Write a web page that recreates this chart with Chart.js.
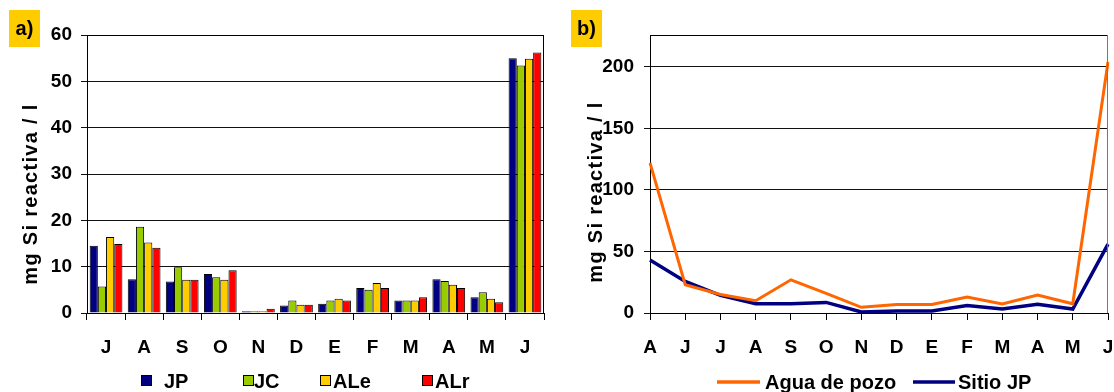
<!DOCTYPE html>
<html>
<head>
<meta charset="utf-8">
<script src="https://cdn.jsdelivr.net/npm/chart.js@4.4.1/dist/chart.umd.min.js"></script>
<style>
  html, body { margin: 0; padding: 0; background: #fff; }
  #wrap { position: relative; width: 1114px; height: 392px; overflow: hidden; }
  canvas { position: absolute; top: 0; }
  #left { left: 0; }
  #right { left: 556px; }
</style>
</head>
<body>
<div id="wrap">
  <canvas id="left" width="556" height="392"></canvas>
  <canvas id="right" width="558" height="392"></canvas>
</div>
<script>
// a) bars per month
const monthsA = ['J', 'A', 'S', 'O', 'N', 'D', 'E', 'F', 'M', 'A', 'M', 'J'];
const seriesA = ['JP', 'JC', 'ALe', 'ALr'];
const jp  = [14.5, 7.3, 6.8, 8.4, 0.4, 1.6, 2.0, 5.4, 2.7, 7.3, 3.4, 55.0];
const jc  = [5.7, 18.6, 9.9, 7.7, 0.4, 2.7, 2.7, 5.0, 2.7, 6.9, 4.5, 53.4];
const ale = [16.4, 15.2, 7.2, 7.2, 0.4, 1.8, 3.1, 6.5, 2.7, 6.1, 3.1, 54.9];
const alr = [14.9, 14.1, 7.2, 9.2, 0.9, 1.8, 2.7, 5.4, 3.4, 5.4, 2.3, 56.2];
const ticksA = [0, 10, 20, 30, 40, 50, 60];

// b) lines per month
const monthsB = ['A', 'J', 'J', 'A', 'S', 'O', 'N', 'D', 'E', 'F', 'M', 'A', 'M', 'J'];
const seriesB = ['Agua de pozo', 'Sitio JP'];
const pozo  = [122, 23, 15, 10, 27, 16, 4.6, 7, 7, 13, 7.3, 14.6, 7.5, 204];
const sitio = [43, 25.7, 14.3, 7.6, 7.6, 8.6, 0.8, 1.6, 1.6, 6, 3.2, 7, 3.2, 56];
const ticksB = [0, 50, 100, 150, 200];

const yTitle = 'mg Si reactiva / l';
const FONT = "'Liberation Sans', Arial, sans-serif";

// frame, tag box, rotated title and legend drawn on top of the chart
const framePlugin = {
  id: 'frame',
  afterDraw(chart, args, o) {
    const ctx = chart.ctx, a = chart.chartArea;
    ctx.save();
    ctx.lineWidth = 1;
    ctx.strokeStyle = '#000';
    ctx.beginPath();
    ctx.moveTo(a.left, Math.round(a.top) + 0.5);
    ctx.lineTo(Math.round(a.right) - 0.5, Math.round(a.top) + 0.5);
    ctx.stroke();
    ctx.strokeStyle = o.rightColor;
    ctx.beginPath();
    ctx.moveTo(Math.round(a.right) - 0.5, a.top);
    ctx.lineTo(Math.round(a.right) - 0.5, a.bottom);
    ctx.stroke();

    // tag
    ctx.fillStyle = '#ffcc00';
    ctx.fillRect(o.tag.x, o.tag.y, o.tag.w, o.tag.h);
    ctx.fillStyle = '#000';
    ctx.font = 'bold 20px ' + FONT;
    ctx.textAlign = 'center';
    ctx.textBaseline = 'middle';
    ctx.fillText(o.tag.text, o.tag.x + o.tag.w / 2, o.tag.y + o.tag.h / 2 + 1);

    // legend
    ctx.textAlign = 'left';
    chart.data.datasets.forEach((ds, i) => {
      const it = o.legend.items[i];
      if (o.legend.kind === 'box') {
        ctx.fillStyle = ds.backgroundColor;
        ctx.fillRect(it.box, o.legend.y - 6, 11, 11);
        ctx.strokeStyle = '#000';
        ctx.strokeRect(it.box + 0.5, o.legend.y - 5.5, 10, 10);
      } else {
        ctx.strokeStyle = ds.borderColor;
        ctx.lineWidth = 3.5;
        ctx.beginPath();
        ctx.moveTo(it.box, o.legend.y);
        ctx.lineTo(it.box + it.len, o.legend.y);
        ctx.stroke();
      }
      ctx.fillStyle = '#000';
      ctx.font = 'bold 20px ' + FONT;
      ctx.fillText(ds.label, it.text, o.legend.y + 1);
    });

    // rotated y title
    ctx.translate(o.title.x, o.title.y);
    ctx.rotate(-Math.PI / 2);
    ctx.letterSpacing = o.title.spacing;
    ctx.textAlign = 'center';
    ctx.fillStyle = '#000';
    ctx.font = 'bold 20px ' + FONT;
    ctx.fillText(yTitle, 0, 0);
    ctx.restore();
  }
};

const tickFont = { family: FONT, size: 19, weight: 'bold' };

new Chart(document.getElementById('left'), {
  type: 'bar',
  data: {
    labels: monthsA,
    datasets: [
      { label: seriesA[0], data: jp,  backgroundColor: '#000080' },
      { label: seriesA[1], data: jc,  backgroundColor: '#99cc00' },
      { label: seriesA[2], data: ale, backgroundColor: '#ffcc00' },
      { label: seriesA[3], data: alr, backgroundColor: '#ff0000' }
    ].map(d => Object.assign(d, {
      borderColor: '#000', borderWidth: 1,
      categoryPercentage: 0.86, barPercentage: 1
    }))
  },
  options: {
    responsive: false,
    animation: false,
    layout: { padding: { left: 0, right: 12, top: 35, bottom: 0 } },
    plugins: {
      legend: { display: false },
      tooltip: { enabled: false },
      frame: {
        rightColor: '#000',
        tag: { text: 'a)', x: 9, y: 10, w: 31, h: 37 },
        title: { x: 31, y: 194, spacing: '1.3px' },
        legend: {
          kind: 'box', y: 381,
          items: [{ box: 141, text: 164 }, { box: 243, text: 254 },
                  { box: 320, text: 333 }, { box: 422, text: 435 }]
        }
      }
    },
    scales: {
      x: {
        afterFit: s => { s.height = 79; },
        grid: { drawOnChartArea: false, drawTicks: true, tickLength: 7, color: '#000', offset: true },
        border: { color: '#000', width: 1 },
        ticks: { font: tickFont, color: '#000', padding: 16, maxRotation: 0, autoSkip: false }
      },
      y: {
        min: 0, max: 60,
        afterFit: s => { s.width = 87; },
        afterBuildTicks: s => { s.ticks = ticksA.map(v => ({ value: v })); },
        grid: { color: '#111', lineWidth: 1, tickLength: 6 },
        border: { color: '#000', width: 1 },
        ticks: { font: tickFont, color: '#000', padding: 9 }
      }
    }
  },
  plugins: [framePlugin]
});

new Chart(document.getElementById('right'), {
  type: 'line',
  data: {
    labels: monthsB,
    datasets: [
      { label: seriesB[0], data: pozo,  borderColor: '#ff6600', borderWidth: 3 },
      { label: seriesB[1], data: sitio, borderColor: '#000080', borderWidth: 3.5 }
    ].map(d => Object.assign(d, { pointRadius: 0, tension: 0, fill: false }))
  },
  options: {
    responsive: false,
    animation: false,
    layout: { padding: { left: 0, right: 6, top: 35, bottom: 0 } },
    plugins: {
      legend: { display: false },
      tooltip: { enabled: false },
      frame: {
        rightColor: '#777',
        tag: { text: 'b)', x: 15, y: 10, w: 31, h: 37 },
        title: { x: 40, y: 192, spacing: '1.3px' },
        legend: {
          kind: 'line', y: 382,
          items: [{ box: 161, len: 43, text: 209 }, { box: 357, len: 42, text: 402 }]
        }
      }
    },
    scales: {
      x: {
        afterFit: s => { s.height = 79; s.paddingRight = 0; s.paddingLeft = 0; },
        grid: { drawOnChartArea: false, drawTicks: true, tickLength: 7, color: '#000' },
        border: { color: '#000', width: 1 },
        ticks: { font: tickFont, color: '#000', padding: 16, maxRotation: 0, autoSkip: false }
      },
      y: {
        min: 0, max: 226,
        afterFit: s => { s.width = 94; },
        afterBuildTicks: s => { s.ticks = ticksB.map(v => ({ value: v })); },
        grid: { color: '#111', lineWidth: 1, tickLength: 6 },
        border: { color: '#000', width: 1 },
        ticks: { font: tickFont, color: '#000', padding: 10 }
      }
    }
  },
  plugins: [framePlugin]
});
</script>
</body>
</html>
